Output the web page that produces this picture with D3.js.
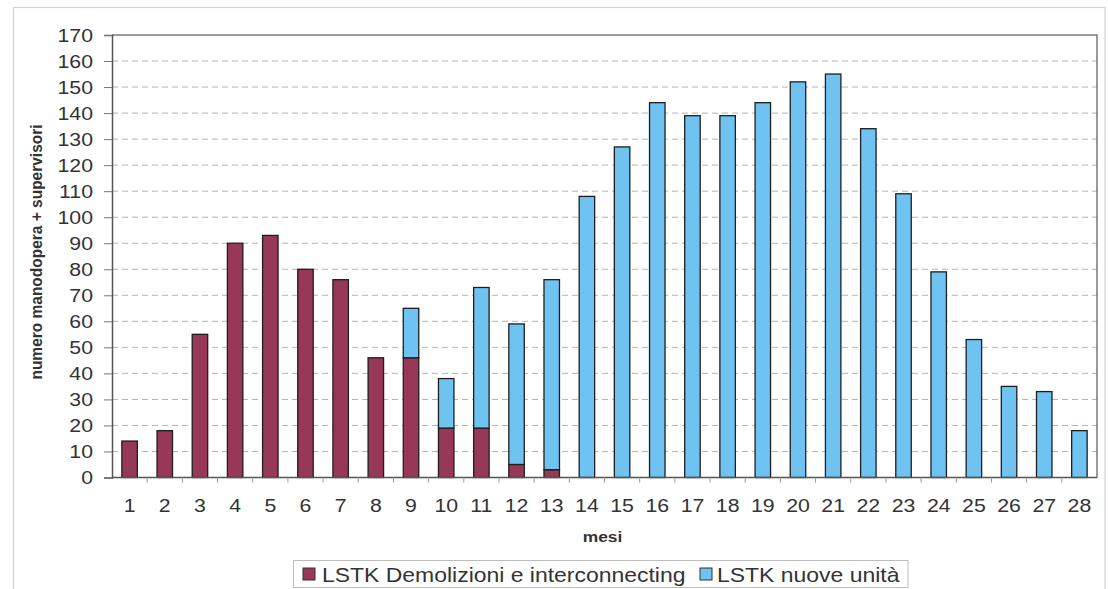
<!DOCTYPE html>
<html>
<head>
<meta charset="utf-8">
<script src="https://cdn.jsdelivr.net/npm/d3@7"></script>
<style>
  html, body { margin: 0; padding: 0; background: #ffffff; }
  svg { display: block; }
  text { font-family: "Liberation Sans", Arial, Helvetica, sans-serif; fill: #333; }
</style>
</head>
<body>
<svg id="chart" width="1108" height="589"></svg>
<script>
// Months on the x axis
const months = ["1","2","3","4","5","6","7","8","9","10","11","12","13","14",
                "15","16","17","18","19","20","21","22","23","24","25","26","27","28"];

// Workforce + supervisors per month, by contract
const demolizioni = [14,18,55,90,93,80,76,46,46,19,19,5,3,0,
                     0,0,0,0,0,0,0,0,0,0,0,0,0,0];
const nuoveUnita  = [0,0,0,0,0,0,0,0,19,19,54,54,73,108,
                     127,144,139,139,144,152,155,134,109,79,53,35,33,18];

const seriesNames = ["LSTK Demolizioni e interconnecting", "LSTK nuove unità"];
const yTicks = [0,10,20,30,40,50,60,70,80,90,100,110,120,130,140,150,160,170];

const colors = ["#983858", "#6fc3f1"];
const SX = 1.12; // horizontal stretch applied to the lettering

const svg = d3.select("#chart");
const W = 1108, H = 589;
const plot = { left: 112, right: 1097, top: 35, bottom: 477.5 };

// Outer chart frame
svg.append("rect")
  .attr("x", 13.5).attr("y", 7.5)
  .attr("width", 1105 - 13.5).attr("height", 600)
  .attr("fill", "#fff").attr("stroke", "#d2d2d2").attr("stroke-width", 1.2);

const x = d3.scaleBand()
  .domain(months)
  .range([plot.left, plot.right])
  .paddingInner(0.56)
  .paddingOuter(0.28);

const y = d3.scaleLinear()
  .domain([0, 170])
  .range([plot.bottom, plot.top]);

// Dashed horizontal gridlines
svg.append("g")
  .selectAll("line")
  .data(yTicks.filter(t => t > 0 && t < 170))
  .join("line")
  .attr("x1", plot.left).attr("x2", plot.right)
  .attr("y1", d => y(d)).attr("y2", d => y(d))
  .attr("stroke", "#b4b4b4")
  .attr("stroke-width", 1)
  .attr("stroke-dasharray", "6,4");

// Stacked bars
const table = months.map((m, i) => ({ month: m, a: demolizioni[i], b: nuoveUnita[i] }));
const stacked = d3.stack().keys(["a", "b"])(table);

svg.append("g")
  .selectAll("g")
  .data(stacked)
  .join("g")
  .attr("fill", (d, i) => colors[i])
  .selectAll("rect")
  .data(d => d.filter(s => s[1] - s[0] > 0))
  .join("rect")
  .attr("x", d => x(d.data.month))
  .attr("width", x.bandwidth())
  .attr("y", d => y(d[1]))
  .attr("height", d => y(d[0]) - y(d[1]))
  .attr("stroke", "#1e1e1e")
  .attr("stroke-width", 1.3);

// Plot area frame (top and right)
svg.append("path")
  .attr("d", `M${plot.left},${plot.top}H${plot.right}V${plot.bottom}`)
  .attr("fill", "none")
  .attr("stroke", "#7a7a7a")
  .attr("stroke-width", 1.5);

// Y axis
const yAxis = svg.append("g")
  .attr("transform", `translate(${plot.left},0)`)
  .call(d3.axisLeft(y).tickValues(yTicks).tickSize(8).tickPadding(0));
yAxis.select(".domain").attr("stroke", "#555").attr("stroke-width", 1.5);
yAxis.selectAll(".tick line").attr("stroke", "#777").attr("stroke-width", 1);
yAxis.selectAll(".tick text")
  .attr("x", -19 / SX)
  .attr("transform", `scale(${SX},1)`)
  .style("font-size", "19px")
  .attr("fill", "#333");

// X axis: labels at band centres
const xAxis = svg.append("g")
  .attr("transform", `translate(0,${plot.bottom})`)
  .call(d3.axisBottom(x).tickSize(0).tickPadding(0));
xAxis.select(".domain")
  .attr("d", `M${plot.left},0H${plot.right}`)
  .attr("stroke", "#555").attr("stroke-width", 1.5);
xAxis.selectAll(".tick text")
  .attr("y", 21.5)
  .attr("transform", `scale(${SX},1)`)
  .style("font-size", "19px")
  .attr("fill", "#333");

// Small ticks between months
const half = (x.step() - x.bandwidth()) / 2;
svg.append("g")
  .selectAll("line")
  .data(months.slice(1))
  .join("line")
  .attr("x1", d => x(d) - half).attr("x2", d => x(d) - half)
  .attr("y1", plot.bottom).attr("y2", plot.bottom + 5)
  .attr("stroke", "#999").attr("stroke-width", 1);

// Axis titles
svg.append("text")
  .attr("transform", `translate(${(plot.left + plot.right) / 2 - 2},542) scale(${SX},1)`)
  .attr("text-anchor", "middle")
  .style("font-size", "15.5px")
  .style("font-weight", "bold")
  .attr("fill", "#222")
  .text("mesi");

svg.append("text")
  .attr("transform", `translate(42,252) rotate(-90) scale(1,${SX})`)
  .attr("text-anchor", "middle")
  .style("font-size", "15.5px")
  .style("font-weight", "bold")
  .attr("fill", "#222")
  .text("numero manodopera + supervisori");

// Legend
const legend = svg.append("g");
legend.append("rect")
  .attr("x", 293.5).attr("y", 560.5)
  .attr("width", 908 - 293.5).attr("height", 27)
  .attr("fill", "#fff").attr("stroke", "#bdbdbd").attr("stroke-width", 1);

const legendItems = [
  { name: seriesNames[0], color: colors[0], sx: 303, tx: 322 },
  { name: seriesNames[1], color: colors[1], sx: 700, tx: 717 }
];
legendItems.forEach(it => {
  legend.append("rect")
    .attr("x", it.sx).attr("y", 568)
    .attr("width", 12).attr("height", 12)
    .attr("fill", it.color)
    .attr("stroke", "#333").attr("stroke-width", 1);
  legend.append("text")
    .attr("transform", `translate(${it.tx},582) scale(${SX},1)`)
    .style("font-size", "20.5px")
    .attr("fill", "#333")
    .text(it.name);
});
</script>
</body>
</html>
